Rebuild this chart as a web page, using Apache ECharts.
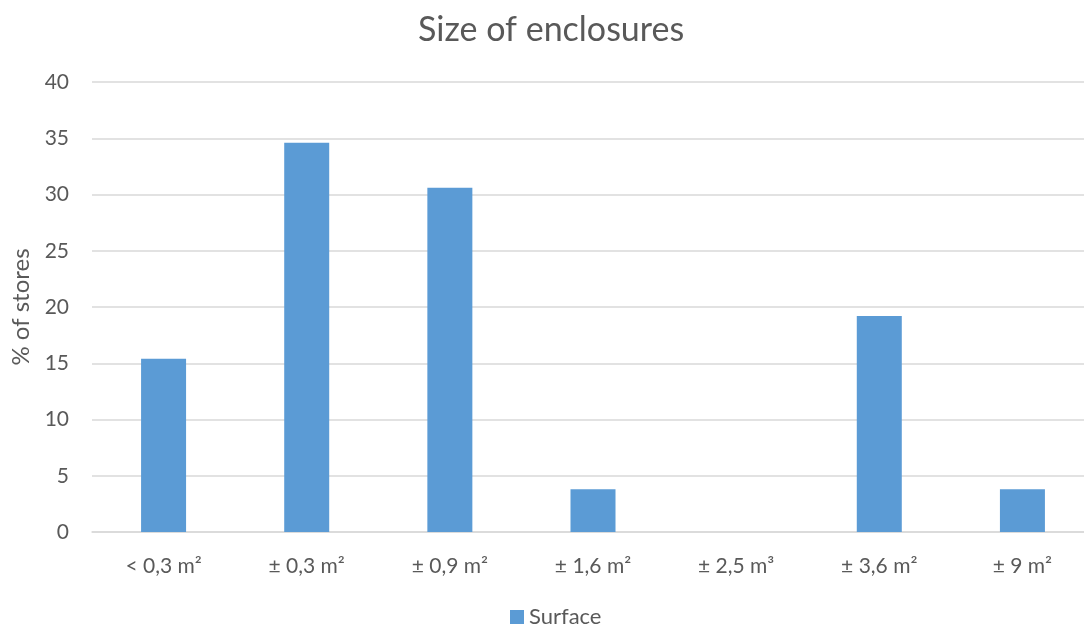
<!DOCTYPE html>
<html><head><meta charset="utf-8">
<script src="https://cdn.jsdelivr.net/npm/echarts@6/dist/echarts.min.js"></script>
<style>html,body{margin:0;padding:0;background:#fff}#c{width:1084px;height:626px}</style>
</head><body><div id="c"></div>
<script>
var categories = ['< 0,3 m²', '± 0,3 m²', '± 0,9 m²', '± 1,6 m²', '± 2,5 m³', '± 3,6 m²', '± 9 m²'];
var surface = [15.4, 34.6, 30.6, 3.8, 0, 19.2, 3.8];
var seriesName = 'Surface';
var titleText = 'Size of enclosures';
var yName = '% of stores';

var chart = echarts.init(document.getElementById('c'), null, {renderer: 'canvas'});
var font = 'Lato, "Open Sans", sans-serif';
chart.setOption({
  animation: false,
  backgroundColor: '#fff',
  title: {text: titleText, left: 413, top: 8,
    textStyle: {fontFamily: font, fontSize: 34, fontWeight: 'normal', color: '#595959'}},
  legend: {top: 601, left: 505, itemWidth: 14, itemHeight: 14, itemGap: 5,
    icon: 'rect',
    textStyle: {fontFamily: font, fontSize: 22, color: '#595959'}},
  grid: {left: 92, width: 1002, top: 82, height: 450, outerBoundsMode: 'none', containLabel: false},
  xAxis: {type: 'category', data: categories,
    axisLine: {lineStyle: {color: '#D9D9D9', width: 1.5}},
    axisTick: {show: false},
    axisLabel: {fontFamily: font, fontSize: 21, color: '#595959', margin: 24}},
  yAxis: {type: 'value', min: 0, max: 40, interval: 5,
    name: yName, nameLocation: 'middle', nameGap: 58, nameRotate: 90,
    nameTextStyle: {fontFamily: font, fontSize: 24, color: '#595959'},
    axisLine: {show: false}, axisTick: {show: false},
    axisLabel: {fontFamily: font, fontSize: 21, color: '#595959', margin: 23},
    splitLine: {lineStyle: {color: '#D9D9D9', width: 1.5}}},
  series: [{name: seriesName, type: 'bar', data: surface, barWidth: 45,
    itemStyle: {color: '#5B9BD5'}}]
});
</script></body></html>
